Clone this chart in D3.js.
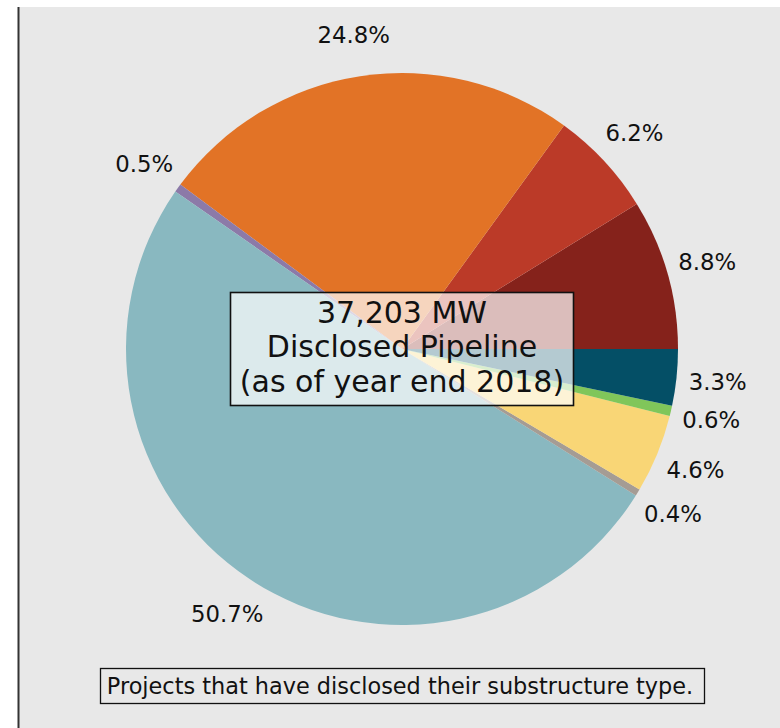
<!DOCTYPE html>
<html><head><meta charset="utf-8">
<script src="https://cdn.jsdelivr.net/npm/d3@7"></script>
<style>html,body{margin:0;padding:0;background:#fff;}svg{display:block;font-family:"DejaVu Sans",sans-serif;}</style>
</head><body>
<svg id="chart" width="780" height="728"></svg>
<script>
const categories = ["Type A","Type B","Type C","Type D","Type E","Type F","Type G","Type H","Type I"];
const shares = [8.8, 6.2, 24.8, 0.5, 50.7, 0.4, 4.6, 0.6, 3.3];
const labels = ["8.8%","6.2%","24.8%","0.5%","50.7%","0.4%","4.6%","0.6%","3.3%"];
const colors = ["#85221b","#bb3a28","#e27326","#8c7aa8","#89b8c0","#a59c94","#f9d676","#80c65a","#044f66"];
const centerLines = ["37,203 MW","Disclosed Pipeline","(as of year end 2018)"];
const caption = "Projects that have disclosed their substructure type.";

const svg = d3.select("#chart");
svg.append("rect").attr("x",19).attr("y",7).attr("width",761).attr("height",721).attr("fill","#e8e8e8");
svg.append("line").attr("x1",18.5).attr("x2",18.5).attr("y1",7).attr("y2",728).attr("stroke","#333").attr("stroke-width",2);

const cx = 402, cy = 349, R = 276;
const g = svg.append("g").attr("transform",`translate(${cx},${cy})`);
const pie = d3.pie().sort(null).value(d=>d).startAngle(Math.PI/2).endAngle(Math.PI/2 - 2*Math.PI);
const arcs = pie(shares);
const arc = d3.arc().innerRadius(0).outerRadius(R);
g.selectAll("path.slice").data(arcs).enter().append("path")
  .attr("d",arc).attr("fill",(d,i)=>colors[i]);
const labelArc = d3.arc().innerRadius(R*1.15).outerRadius(R*1.15);
g.selectAll("text.pct").data(arcs).enter().append("text")
  .attr("x",d=>labelArc.centroid(d)[0]).attr("y",d=>labelArc.centroid(d)[1])
  .attr("text-anchor","middle").attr("dominant-baseline","central")
  .attr("font-size",22.8).attr("fill","#111").text((d,i)=>labels[i]);

// center box
svg.append("rect").attr("x",230.5).attr("y",292.5).attr("width",343).attr("height",113)
  .attr("fill","#fff").attr("fill-opacity",0.7).attr("stroke","#111").attr("stroke-width",1.6);
const ct = svg.append("text").attr("text-anchor","middle").attr("font-size",30).attr("fill","#111");
centerLines.forEach((t,i)=>ct.append("tspan").attr("x",cx).attr("y",323+i*34.3).text(t));

// caption
svg.append("rect").attr("x",100.5).attr("y",668.5).attr("width",604).attr("height",35)
  .attr("fill","#e8e8e8").attr("stroke","#111").attr("stroke-width",1.3);
svg.append("text").attr("x",400).attr("y",694).attr("text-anchor","middle").attr("font-size",22.4)
  .attr("fill","#111").text(caption);
</script>
</body></html>
